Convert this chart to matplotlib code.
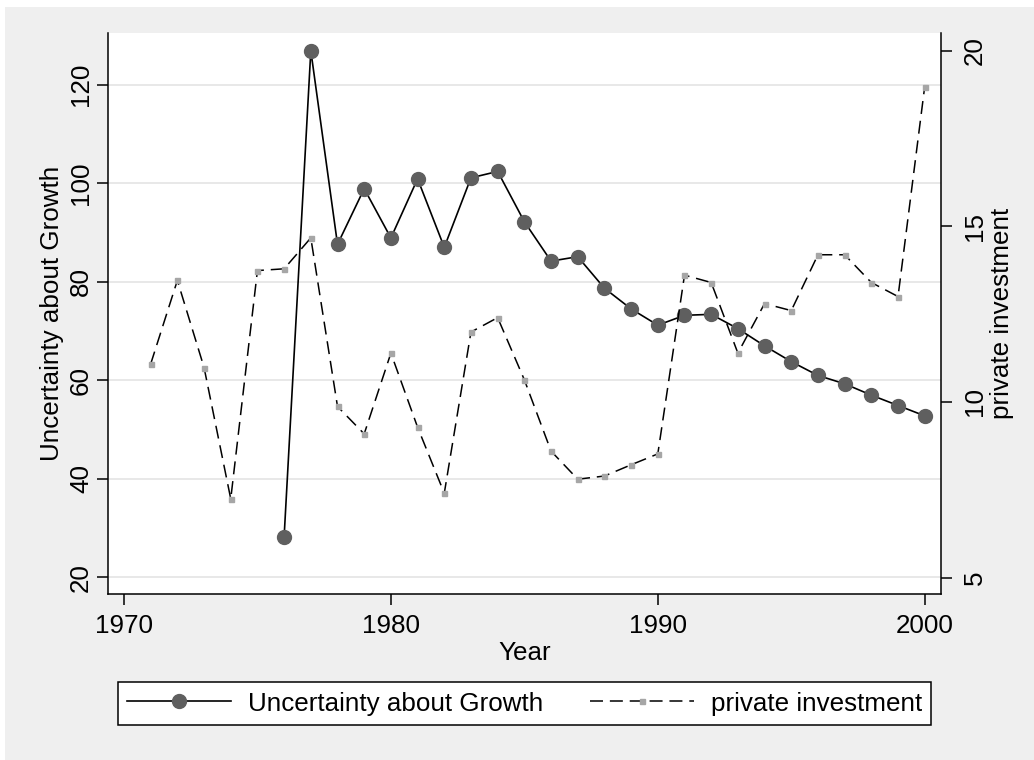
import matplotlib
matplotlib.use('Agg')
import matplotlib.pyplot as plt
from matplotlib.patches import Rectangle
from matplotlib.lines import Line2D

years_unc = list(range(1976, 2001))
uncertainty = [28.3, 126.9, 87.6, 98.9, 88.9, 100.9, 87.0, 101.1, 102.4, 92.2,
               84.2, 85.1, 78.7, 74.5, 71.2, 73.2, 73.4, 70.5, 67.0, 63.8,
               61.0, 59.3, 57.0, 54.9, 52.8]

years_inv = list(range(1971, 2001))
investment = [11.08, 13.46, 10.98, 7.24, 13.74, 13.79, 14.67, 9.87, 9.09, 11.39,
              9.28, 7.40, 11.99, 12.40, 10.63, 8.60, 7.80, 7.89, 8.21, 8.52,
              13.61, 13.40, 11.39, 12.80, 12.60, 14.19, 14.19, 13.40, 13.00, 18.98]

x_ticks = [1970, 1980, 1990, 2000]
left_ticks = [20, 40, 60, 80, 100, 120]
right_ticks = [5, 10, 15, 20]

plt.rcParams['font.family'] = ['Liberation Sans', 'DejaVu Sans']
FS = 18.7
DASH = (0, (8.5, 4.5))

fig = plt.figure(figsize=(10.34, 7.6), dpi=100, facecolor='white')
# grey outer region (small white margin at top/left like the original)
fig.patches.append(Rectangle((5 / 1034, 0), 1, (760 - 7) / 760, transform=fig.transFigure,
                             facecolor='#efefef', edgecolor='none', zorder=-10))

ax = fig.add_axes([107.7 / 1034, (760 - 593.7) / 760, (941 - 107.7) / 1034, (593.7 - 33.3) / 760])
ax.set_facecolor('white')
ax2 = ax.twinx()

ax.plot(years_unc, uncertainty, color='black', lw=1.2, marker='o', markersize=10,
        markerfacecolor='#5f5f5f', markeredgecolor='#5f5f5f', zorder=3)
ax2.plot(years_inv, investment, color='black', lw=1.1, linestyle=DASH,
         marker='s', markersize=3.6, markerfacecolor='#a6a6a6', markeredgecolor='#a6a6a6')

ax.set_xlim(1969.39, 2000.61)
ax.set_ylim(16.71, 130.43)
ax2.set_ylim(4.54, 20.495)

ax.set_xticks(x_ticks)
ax.set_yticks(left_ticks)
ax2.set_yticks(right_ticks)
ax.grid(axis='y', color='#e6e6e6', lw=1.3)
ax.set_axisbelow(True)

for a in (ax, ax2):
    a.spines['top'].set_visible(False)
    for s in a.spines.values():
        s.set_linewidth(1.1)
    a.tick_params(length=8, width=1.1, labelsize=FS)
ax.spines['right'].set_visible(False)
ax2.spines['left'].set_visible(False)
ax2.spines['bottom'].set_visible(False)

ax.tick_params(axis='x', pad=6.8)
ax.tick_params(axis='y', labelrotation=90, pad=2.5)
ax2.tick_params(axis='y', labelrotation=90, pad=7.7)
for lab in ax.get_yticklabels() + ax2.get_yticklabels():
    lab.set_va('center')

ax.set_xlabel('Year', fontsize=FS, labelpad=2)
ax.set_ylabel('Uncertainty about Growth', fontsize=FS, labelpad=3.7)
ax2.set_ylabel('private investment', fontsize=FS, labelpad=2)

handles = [
    Line2D([], [], color='black', lw=1.2, marker='o', markersize=10,
           markerfacecolor='#5f5f5f', markeredgecolor='#5f5f5f'),
    Line2D([], [], color='black', lw=1.1, linestyle=DASH, marker='s',
           markersize=3.6, markerfacecolor='#a6a6a6', markeredgecolor='#a6a6a6'),
]
leg = fig.legend(handles, ['Uncertainty about Growth', 'private investment'],
                 loc='center', bbox_to_anchor=(524.5 / 1034, (760 - 703.5) / 760),
                 ncol=2, fontsize=FS, frameon=True, fancybox=False, framealpha=1,
                 edgecolor='black', handlelength=4, handletextpad=0.65,
                 columnspacing=1.8, borderpad=0.35, borderaxespad=0)
leg.get_frame().set_linewidth(1.1)

fig.savefig('out.png', dpi=100, facecolor=fig.get_facecolor())
